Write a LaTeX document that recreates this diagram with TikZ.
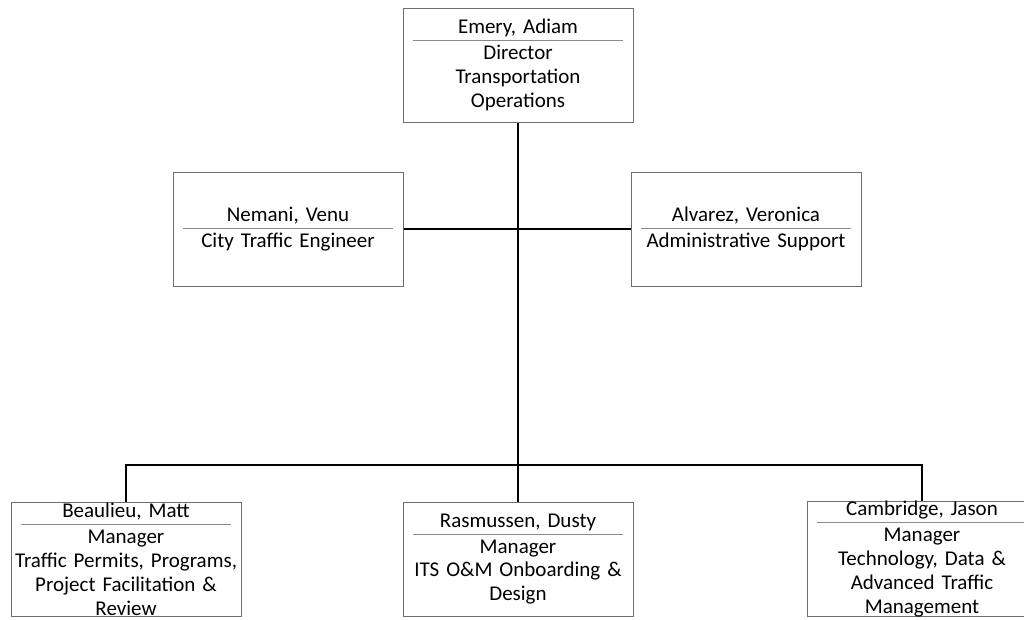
\documentclass[tikz,border=0pt]{standalone}
\usepackage{fontspec}
\setmainfont{Carlito}
\usetikzlibrary{positioning}
\definecolor{cedge}{HTML}{6E6E6E}
\definecolor{csep}{HTML}{8A8A8A}
% name line, thin grey rule, then the job title
\newcommand{\sepline}{\\\raisebox{12.3pt}[0pt][0pt]{\color{csep}\rule{157pt}{0.75pt}}\\[-16.3pt]}
\tikzset{
  every picture/.style={x=0.75pt, y=-0.75pt},
  box/.style={draw=cedge, line width=0.75pt, fill=white, align=center, text width=171pt,
    inner sep=0pt, minimum width=172.5pt, minimum height=85.5pt,
    font=\fontsize{15.75pt}{17.9pt}\selectfont\frenchspacing},
  link/.style={draw=black, line width=1.5pt},
}

\begin{document}
\begin{tikzpicture}
  \clip (0,0) rectangle (1024,619);
  % director on top, two staff roles beside the trunk
  \node[box] (emery) at (518,65) {Emery, Adiam\sepline Director\\Transportation\\Operations};
  \node[box] (nemani) at (288,229) {Nemani, Venu\sepline City Traffic Engineer};
  \node[box] (alvarez) at (746,229) {Alvarez, Veronica\sepline Administrative Support};
  % the three managers
  \node[box] (beaulieu) at (126,559) {Beaulieu, Matt\sepline Manager\\Traffic Permits, Programs,\\Project Facilitation \&\\Review};
  \node[box] (rasmussen) at (518,559) {Rasmussen, Dusty\sepline Manager\\ITS O\&M Onboarding \&\\Design};
  \node[box] (cambridge) at (922,559) {Cambridge, Jason\sepline Manager\\Technology, Data \&\\Advanced Traffic\\Management};
  \coordinate (bus) at (518,465);
  \draw[link] (emery) -- (rasmussen);
  \draw[link] (nemani) -- (alvarez);
  \draw[link] (beaulieu.north) |- (bus) -| (cambridge.north);
\end{tikzpicture}
\end{document}
